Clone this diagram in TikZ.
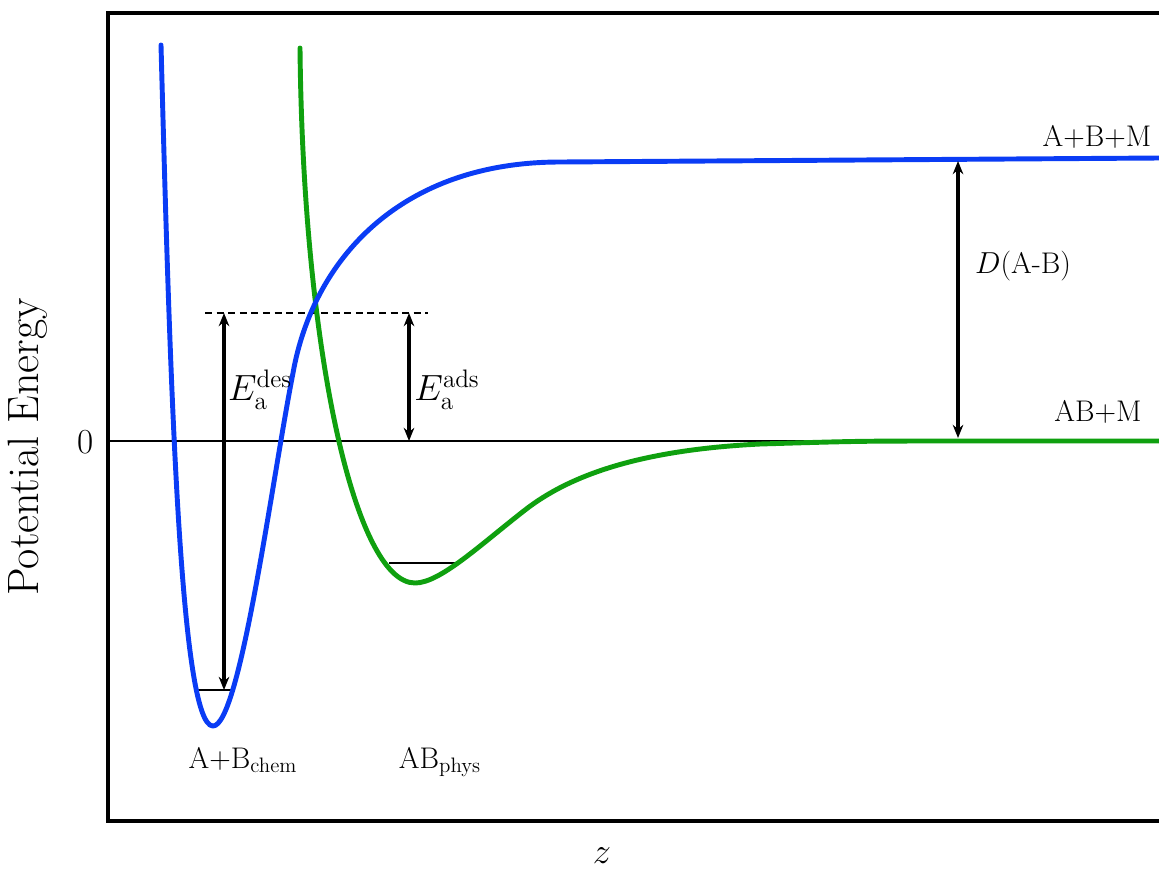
\documentclass[tikz,border=0pt]{standalone}
\usepackage{amsmath}
\usepackage{xcolor}
\usetikzlibrary{arrows.meta, calc, positioning}
\definecolor{chemblue}{RGB}{10,60,245}
\definecolor{physgreen}{RGB}{15,160,15}
\tikzset{
  curve/.style={line width=2.8pt, line join=round, line cap=round},
  gap/.style={{Stealth[length=7.5pt,width=6pt]}-{Stealth[length=7.5pt,width=6pt]}, line width=1.8pt},
  lbl/.style={inner sep=0pt, font=\fontsize{17}{20}\selectfont},
  elbl/.style={inner sep=0pt, font=\fontsize{21}{24}\selectfont},
}

\begin{document}
\begin{tikzpicture}[x=0.02cm, y=-0.02cm, line width=1pt]
            \clip (0,0) rectangle (1159,873);
            \draw[line width=1.9pt] (1200,13) -- (108,13) -- (108,821) -- (1200,821);
            \draw[line width=0.8pt] (108,441) -- (1159,441);
            % levels in the wells
            \draw[line width=0.8pt] (197,690) -- (232,690);
            \draw[line width=0.8pt] (389,563) -- (457,563);
            \draw[line width=0.8pt, dash pattern=on 4pt off 2.6pt] (205,313) -- (428,313);
            \draw[curve, physgreen] (300,48) .. controls (303,350) and (355,583) .. (415,583)
                .. controls (440,583) and (480,545) .. (525,510)
                .. controls (570,475) and (640,450) .. (760,444)
                .. controls (860,441) .. (958,441) -- (1159,441);
            \draw[curve, chemblue] (161,45) .. controls (170,380) and (180,726) .. (213,726)
                .. controls (240,726) and (272,480) .. (293,373)
                .. controls (313,260) and (400,162) .. (560,162) -- (1159,158);
            \coordinate (desTop) at (224,313);
            \coordinate (desBot) at (224,690);
            \coordinate (adsTop) at (409,313);
            \coordinate (adsBot) at (409,441);
            \coordinate (dTop) at (958,161);
            \coordinate (dBot) at (958,438);
            \draw[gap] (desTop) -- (desBot);
            \draw[gap] (adsTop) -- (adsBot);
            \draw[gap] (dTop) -- (dBot);
            \node[elbl] (des) at (260,390) {$E_\mathrm{a}^\mathrm{des}$};
            \node[elbl] (ads) at (447,390) {$E_\mathrm{a}^\mathrm{ads}$};
            \node[lbl] (dab) at (1023,266) {$D$(A-B)};
            \node[lbl] (free) at (1097,137) {A+B+M};
            \node[lbl] (mol) at (1098,412) {AB+M};
            \node[lbl] (chem) at (243,760) {A+B\textsubscript{chem}};
            \node[lbl] (phys) at (440,762) {AB\textsubscript{phys}};
            \node[inner sep=0pt, font=\fontsize{20}{24}\selectfont] (zero) at (86,442) {0};
            \node[inner sep=0pt, font=\fontsize{25}{30}\selectfont, rotate=90] (ylab) at (28,447) {Potential Energy};
            \node[inner sep=0pt, font=\fontsize{22}{26}\selectfont] (xlab) at (602,856) {$z$};
        \end{tikzpicture}
\end{document}
